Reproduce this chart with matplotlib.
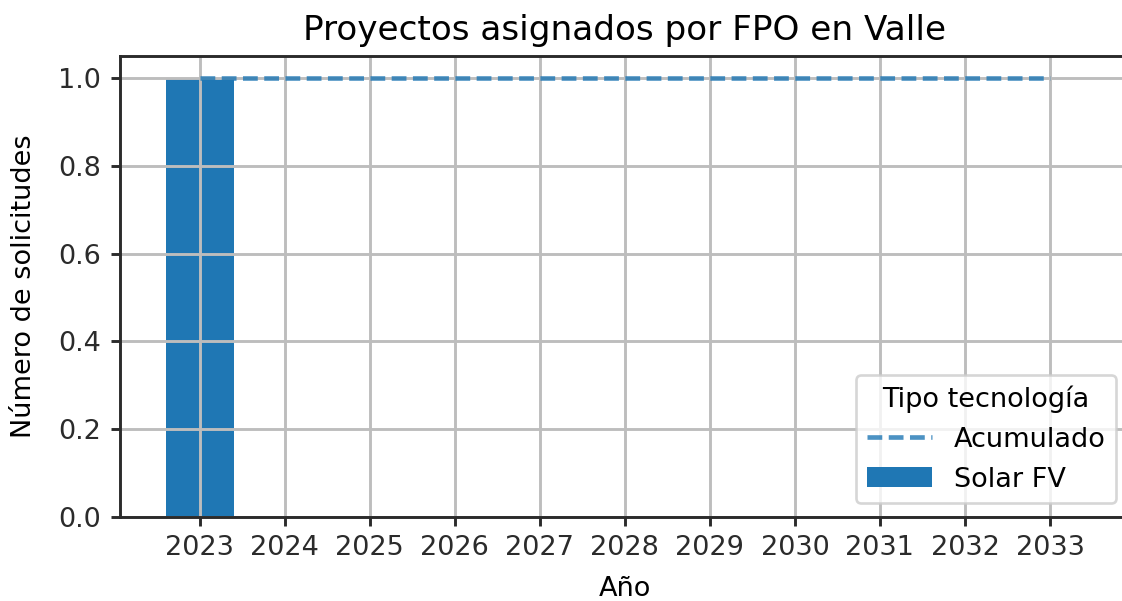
import matplotlib
matplotlib.use("Agg")
import matplotlib.pyplot as plt

# Datos
years = [2023, 2024, 2025, 2026, 2027, 2028, 2029, 2030, 2031, 2032, 2033]
solar_fv = [1, 0, 0, 0, 0, 0, 0, 0, 0, 0, 0]
acumulado = [1, 1, 1, 1, 1, 1, 1, 1, 1, 1, 1]

# the reference looks like a default matplotlib figure scaled ~1.9x
k = 1.9
plt.rcParams["font.family"] = ["DejaVu Sans"]
plt.rcParams.update({
    "font.size": 10.3 * k,
    "axes.titlesize": 13 * k,
    "axes.linewidth": 1.1 * k,
    "axes.edgecolor": "#2b2b2b",
    "grid.linewidth": 1.1 * k,
    "grid.color": "#bdbdbd",
    "lines.linewidth": 1.75 * k,
    "patch.linewidth": 1.0 * k,
    "xtick.major.size": 3.5 * k,
    "ytick.major.size": 3.5 * k,
    "xtick.major.width": 1.1 * k,
    "ytick.major.width": 1.1 * k,
    "xtick.color": "#2b2b2b",
    "ytick.color": "#2b2b2b",
    "xtick.major.pad": 3.5 * k,
    "ytick.major.pad": 3.5 * k,
    "axes.labelpad": 4.0 * k,
    "axes.titlepad": 6.0 * k,
})

fig = plt.figure(figsize=(11.22, 6.01), dpi=100)
# right edge of the axes falls just outside the picture, as in the reference
ax = fig.add_axes([0.1066, 0.1398, 1.0071 - 0.1066, 0.9068 - 0.1398])

ax.bar(years, solar_fv, width=0.8, color="#1f77b4", label="Solar FV")
ax.plot(years, acumulado, linestyle="--", dashes=(3.2, 1.4), color="#1f77b4",
        alpha=0.8, label="Acumulado")

ax.set_xticks(years)
ax.grid(True)

ax.set_title("Proyectos asignados por FPO en Valle")
ax.set_xlabel("Año", labelpad=5.5 * k)
ax.set_ylabel("Número de solicitudes", labelpad=8.0 * k)

ax.legend(title="Tipo tecnología", loc="lower right", handlelength=2.4)

fig.savefig("out.png", dpi=100)
